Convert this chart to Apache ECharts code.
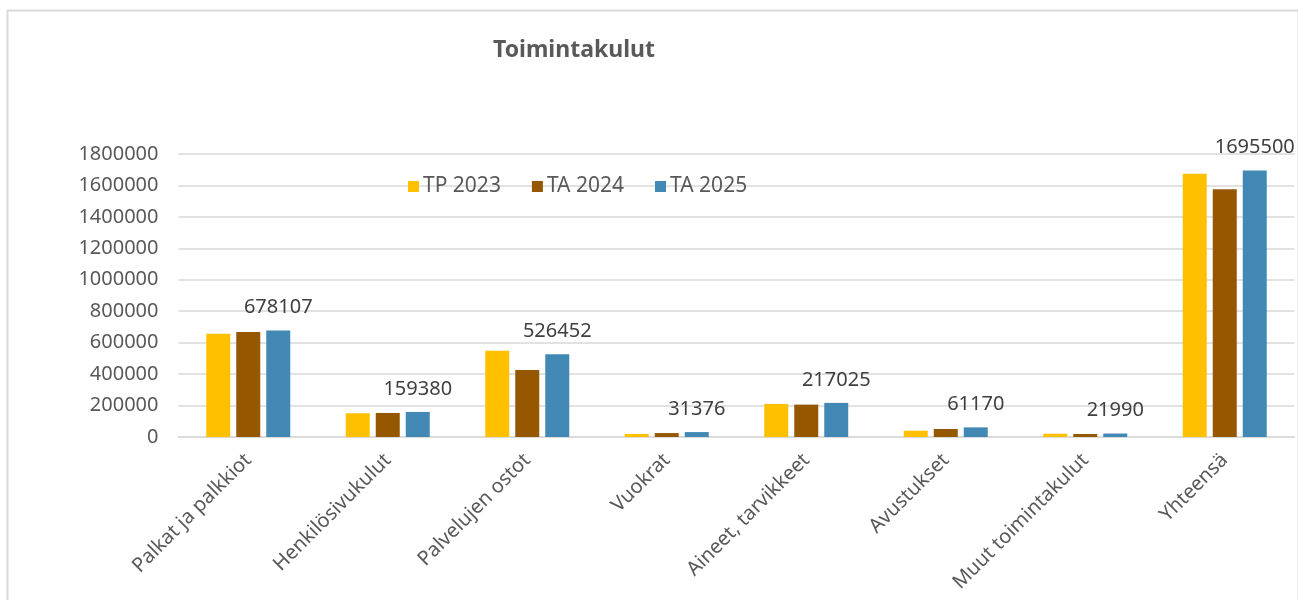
<!DOCTYPE html>
<html>
<head>
<meta charset="utf-8">
<script src="https://cdn.jsdelivr.net/npm/echarts@6/dist/echarts.min.js"></script>
<style>html,body{margin:0;padding:0;background:#fff}#c{width:1298px;height:600px}</style>
</head>
<body>
<div id="c"></div>
<script>
const categories = ['Palkat ja palkkiot','Henkilösivukulut','Palvelujen ostot','Vuokrat','Aineet, tarvikkeet','Avustukset','Muut toimintakulut','Yhteensä'];
const tp2023 = [657000, 151000, 549000, 19000, 210000, 40000, 21000, 1675000];
const ta2024 = [668000, 153000, 426000, 25000, 206000, 51000, 19000, 1576000];
const ta2025 = [678107, 159380, 526452, 31376, 217025, 61170, 21990, 1695500];
const yTicks = { min: 0, max: 1800000, interval: 200000 };

const font = 'Noto Sans';
const chart = echarts.init(document.getElementById('c'));
chart.setOption({
  animation: false,
  backgroundColor: '#fff',
  textStyle: { fontFamily: font },
  graphic: [{
    type: 'rect', left: 5, top: 8,
    shape: { width: 1291, height: 700 },
    style: { fill: 'none', stroke: '#d9d9d9', lineWidth: 2 }
  }],
  title: {
    text: 'Toimintakulut', left: 488, top: 34,
    textStyle: { fontFamily: font, fontSize: 23, fontWeight: 'bold', color: '#595959' }
  },
  legend: {
    left: 403, top: 171, itemWidth: 11, itemHeight: 11, itemGap: 31,
    icon: 'rect',
    textStyle: { fontFamily: font, fontSize: 21, color: '#595959', padding: [0,0,0,-1] },
    data: ['TP 2023','TA 2024','TA 2025']
  },
  grid: { left: 178.5, right: 3.5, top: 154, bottom: 163 },
  xAxis: {
    type: 'category', data: categories,
    axisLine: { lineStyle: { color: '#d9d9d9', width: 1.5 } },
    axisTick: { show: false },
    axisLabel: { rotate: 45, fontSize: 20, color: '#595959', margin: 20, interval: 0, fontFamily: font }
  },
  yAxis: {
    type: 'value', min: yTicks.min, max: yTicks.max, interval: yTicks.interval,
    axisLine: { show: false }, axisTick: { show: false },
    splitLine: { lineStyle: { color: '#d9d9d9', width: 1.5 } },
    axisLabel: { fontSize: 20, color: '#595959', margin: 20, fontFamily: font, formatter: v => String(v) }
  },
  series: [
    { name: 'TP 2023', type: 'bar', data: tp2023, barWidth: 24, barGap: '25%', itemStyle: { color: '#FFC000' } },
    { name: 'TA 2024', type: 'bar', data: ta2024, barWidth: 24, barGap: '25%', itemStyle: { color: '#955700' } },
    { name: 'TA 2025', type: 'bar', data: ta2025, barWidth: 24, barGap: '25%', itemStyle: { color: '#4189B4' },
      label: { show: true, position: 'top', distance: 13, fontSize: 20, color: '#404040', fontFamily: font } }
  ]
});
</script>
</body>
</html>
